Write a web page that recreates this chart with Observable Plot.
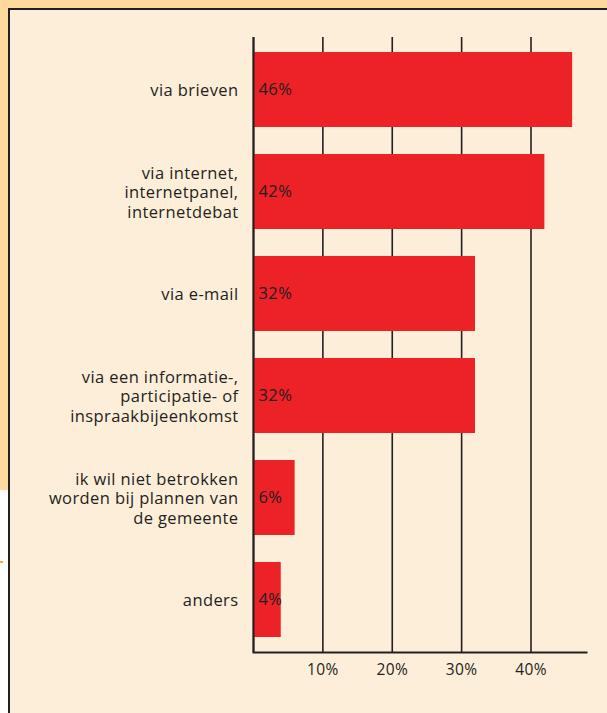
<!DOCTYPE html>
<html><head><meta charset="utf-8">
<script src="https://cdn.jsdelivr.net/npm/d3@7"></script>
<script src="https://cdn.jsdelivr.net/npm/@observablehq/plot@0.6"></script>
<style>
html,body{margin:0;padding:0;background:#fff;}
#wrap{position:relative;width:607px;height:713px;overflow:hidden;font-family:"Open Sans",sans-serif;}
#peach{position:absolute;left:0;top:0;width:607px;height:490px;background:#fdd99d;}
#panel{position:absolute;left:8px;top:8px;width:620px;height:720px;background:#fdeed9;border-left:2px solid #231f20;border-top:2px solid #231f20;}
#mark{position:absolute;left:0;top:561px;width:3px;height:2px;background:#f7a941;}
#chart{position:absolute;left:0;top:0;}
#chart text{letter-spacing:0.4px;}
</style></head>
<body><div id="wrap"><div id="peach"></div><div id="panel"></div><div id="mark"></div><div id="chart"></div></div>
<script>
const categories = [
  "via brieven",
  "via internet,\ninternetpanel,\ninternetdebat",
  "via e-mail",
  "via een informatie-,\nparticipatie- of\ninspraakbijeenkomst",
  "ik wil niet betrokken\nworden bij plannen van\nde gemeente",
  "anders"
];
const values = [46, 42, 32, 32, 6, 4];
const tickValues = [10, 20, 30, 40];
const tickLabels = ["10%", "20%", "30%", "40%"];

const data = categories.map((c, i) => ({cat: c, v: values[i]}));
const ink = "#231f20";

const chart = Plot.plot({
  width: 607,
  height: 713,
  marginLeft: 253,
  marginRight: 21,
  marginTop: 37,
  marginBottom: 61,
  style: {background: "transparent", fontFamily: "'Open Sans', sans-serif", fontSize: "15px", color: ink},
  x: {domain: [0, 48], axis: null},
  y: {domain: categories, axis: null, paddingInner: 0.26, paddingOuter: 0.127},
  marks: [
    Plot.ruleX([0, ...tickValues], {stroke: ink, strokeWidth: 1.6, strokeOpacity: 1}),
    Plot.barX(data, {y: "cat", x: "v", fill: "#ed2227"}),
    Plot.frame({anchor: "bottom", stroke: ink, strokeWidth: 2}),
    Plot.ruleX([0], {stroke: ink, strokeWidth: 2}),
    Plot.text(data, {y: "cat", x: 0, text: "cat", textAnchor: "end", dx: -15, lineHeight: 1.2, fill: ink, fontSize: 16.5}),
    Plot.text(data, {y: "cat", x: 0, text: d => d.v + "%", textAnchor: "start", dx: 5, fill: ink, fontSize: 16.5}),
    Plot.text(tickValues, {x: d => d, text: (d, i) => tickLabels[i], frameAnchor: "bottom", dy: 22, fill: ink, fontSize: 15.5})
  ]
});
document.getElementById("chart").appendChild(chart);
</script></body></html>
